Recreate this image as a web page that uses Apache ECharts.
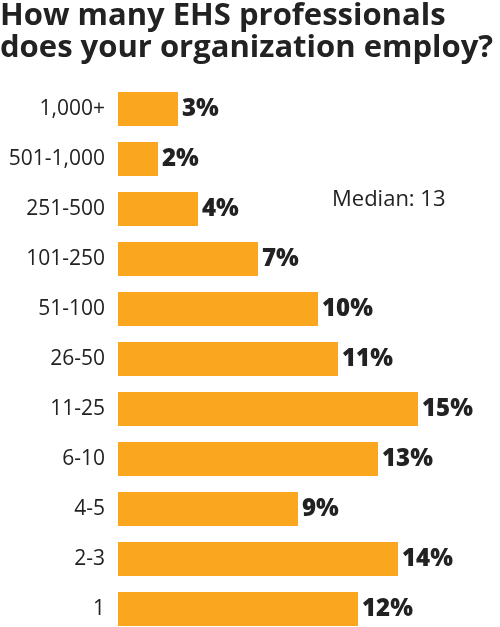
<!DOCTYPE html>
<html>
<head>
<meta charset="utf-8">
<script src="https://cdn.jsdelivr.net/npm/echarts@6/dist/echarts.min.js"></script>
<style>
  html, body { margin: 0; padding: 0; background: #fff; }
  #chart { width: 500px; height: 627px; }
</style>
</head>
<body>
<div id="chart"></div>
<script>
// survey data, top to bottom as shown
const categories = ['1,000+', '501-1,000', '251-500', '101-250', '51-100', '26-50', '11-25', '6-10', '4-5', '2-3', '1'];
const percents = [3, 2, 4, 7, 10, 11, 15, 13, 9, 14, 12];
const medianText = 'Median: 13';

const chart = echarts.init(document.getElementById('chart'), null, { renderer: 'canvas' });

const option = {
  animation: false,
  title: {
    text: 'How many EHS professionals\ndoes your organization employ?',
    left: 0,
    top: 0,
    padding: 0,
    textStyle: {
      fontFamily: 'Open Sans',
      fontWeight: 700,
      fontSize: 31,
      lineHeight: 32,
      color: '#222'
    }
  },
  // category points sit on the grid edges, 50px apart
  grid: { left: 118, top: 109, width: 300, height: 500 },
  xAxis: {
    type: 'value',
    min: 0,
    max: 15,
    show: false
  },
  yAxis: {
    type: 'category',
    data: categories,
    inverse: true,
    boundaryGap: false,
    axisLine: { show: false },
    axisTick: { show: false },
    axisLabel: {
      margin: 13,
      fontFamily: 'Open Sans',
      fontSize: 21,
      color: '#222'
    }
  },
  series: [{
    type: 'bar',
    data: percents,
    barWidth: 34,
    itemStyle: { color: '#FAA61F' },
    label: {
      show: true,
      position: 'right',
      distance: 4,
      formatter: '{c}%',
      fontFamily: 'Open Sans',
      fontWeight: 800,
      fontSize: 24,
      color: '#222'
    }
  }],
  graphic: [{
    type: 'text',
    left: 332,
    top: 189,
    style: {
      text: medianText,
      font: '22px "Open Sans"',
      fill: '#222'
    }
  }]
};

chart.setOption(option);
</script>
</body>
</html>
